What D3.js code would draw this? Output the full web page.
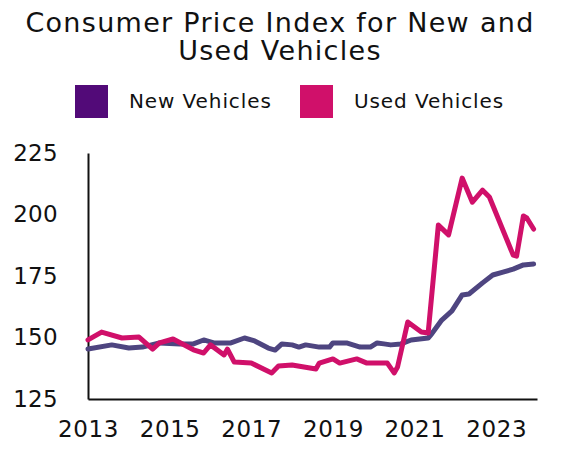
<!DOCTYPE html>
<html>
<head>
<meta charset="utf-8">
<script src="https://cdn.jsdelivr.net/npm/d3@7"></script>
<style>
  body { margin: 0; background: #fff; }
  text { font-family: "DejaVu Sans", sans-serif; fill: #111; }
</style>
</head>
<body>
<div id="chart"></div>
<script>
// months since Jan 2013, CPI value
var newMonths = [0, 7, 12, 16, 21, 27, 31, 34, 37, 42, 46, 49, 53, 55, 57, 60, 62, 64, 68, 71, 72, 76, 80, 83, 85, 87, 89, 92, 95, 100, 101, 104, 107, 110, 112, 116, 119, 122, 125, 128, 131];
var newValues = [145.3, 147, 145.7, 146.1, 147.8, 147.4, 147.4, 149, 147.8, 147.8, 149.8, 148.6, 145.7, 144.9, 147.4, 147, 146.1, 147, 146.1, 146.1, 147.8, 147.8, 146.1, 146.1, 147.8, 147.4, 147, 147.4, 149, 149.8, 151.4, 157.1, 160.8, 167.3, 167.7, 172.2, 175.4, 176.6, 177.8, 179.5, 179.9];

var usedMonths = [0, 4, 10, 15, 19, 21, 25, 31, 34, 36, 40, 41, 43, 48, 54, 56, 60, 67, 68, 72, 74, 79, 82, 88, 90, 91, 94, 98, 100, 103, 106, 110, 113, 116, 118, 125, 126, 128, 129, 131];
var usedValues = [149, 152.2, 149.8, 150.2, 145.3, 147.8, 149.4, 145, 143.7, 147, 142.9, 145.3, 140, 139.6, 135.6, 138.4, 138.8, 137.2, 139.6, 141.3, 139.6, 141.3, 139.6, 139.6, 135.6, 138, 156.3, 152.2, 151.8, 195.7, 191.7, 214.8, 205, 209.9, 207.1, 183.5, 183.1, 199.4, 198.6, 194.1];

var seriesNames = ["New Vehicles", "Used Vehicles"];
var legendColors = ["#520a78", "#d0106a"];
var lineColors = ["#4e4580", "#d0106a"];
var yTicks = [125, 150, 175, 200, 225];
var xTicks = [2013, 2015, 2017, 2019, 2021, 2023];

var width = 568, height = 455;
var margin = {top: 153, right: 31, bottom: 56, left: 88};

var svg = d3.select("#chart").append("svg")
    .attr("width", width)
    .attr("height", height);

// title
svg.append("text")
    .attr("x", 280).attr("y", 32)
    .attr("text-anchor", "middle")
    .attr("font-size", 27)
    .attr("letter-spacing", 1.3)
    .text("Consumer Price Index for New and");
svg.append("text")
    .attr("x", 280).attr("y", 60)
    .attr("text-anchor", "middle")
    .attr("font-size", 27)
    .attr("letter-spacing", 1.3)
    .text("Used Vehicles");

// legend
var legendX = [75, 300];
seriesNames.forEach(function(name, i) {
  svg.append("rect")
      .attr("x", legendX[i]).attr("y", 85)
      .attr("width", 33).attr("height", 33)
      .attr("fill", legendColors[i]);
  svg.append("text")
      .attr("x", legendX[i] + 54).attr("y", 108)
      .attr("font-size", 20)
      .attr("letter-spacing", 0.9)
      .text(name);
});

var x = d3.scaleLinear()
    .domain([2013, 2024])
    .range([margin.left, width - margin.right]);

var y = d3.scaleLinear()
    .domain([125, 225])
    .range([height - margin.bottom, margin.top]);

var toPoints = function(months, values) {
  return months.map(function(m, i) { return {t: 2013 + m / 12, v: values[i]}; });
};

var line = d3.line()
    .x(function(d) { return x(d.t); })
    .y(function(d) { return y(d.v); });

var series = [toPoints(newMonths, newValues), toPoints(usedMonths, usedValues)];

// y axis
var yAxis = svg.append("g")
    .attr("transform", "translate(" + margin.left + ",0)")
    .call(d3.axisLeft(y).tickValues(yTicks).tickSize(0).tickPadding(30));
yAxis.select(".domain").attr("stroke", "#111").attr("stroke-width", 2);
yAxis.selectAll("text").attr("font-size", 23).attr("letter-spacing", 0.3).attr("fill", "#111");

// x axis
var xAxis = svg.append("g")
    .attr("transform", "translate(0," + (height - margin.bottom) + ")")
    .call(d3.axisBottom(x).tickValues(xTicks).tickFormat(d3.format("d")).tickSize(0).tickPadding(22));
xAxis.select(".domain").attr("stroke", "#111").attr("stroke-width", 2);
xAxis.selectAll("text").attr("font-size", 23).attr("letter-spacing", 0.6).attr("fill", "#111");

svg.selectAll("path.series")
  .data(series)
  .enter()
  .append("path")
    .attr("class", "series")
    .attr("fill", "none")
    .attr("stroke", function(d, i) { return lineColors[i]; })
    .attr("stroke-width", 5)
    .attr("stroke-linejoin", "round")
    .attr("stroke-linecap", "round")
    .attr("d", line);
</script>
</body>
</html>
